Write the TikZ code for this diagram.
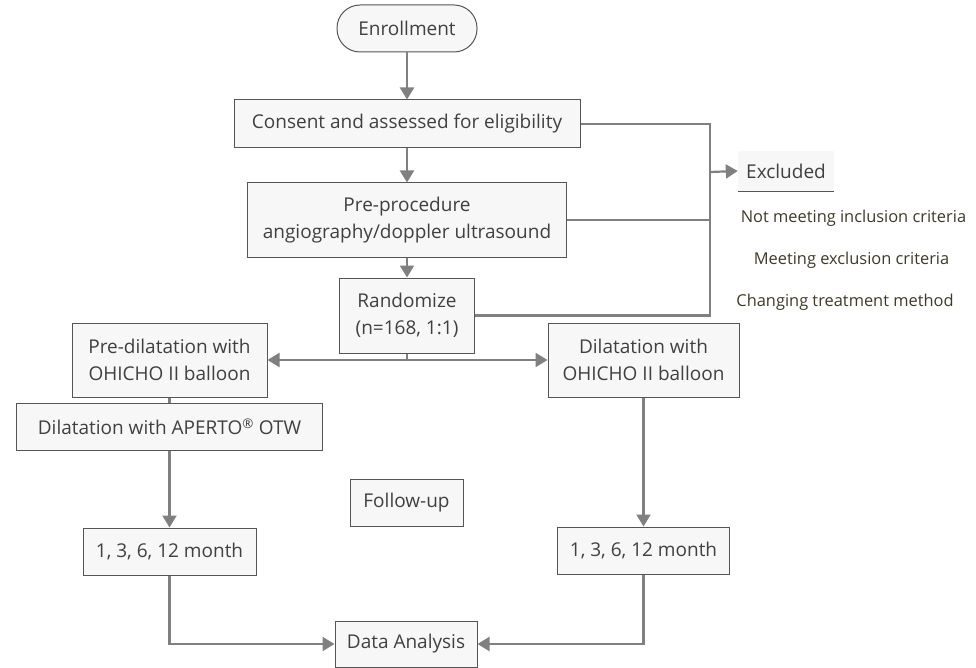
\documentclass[tikz,border=0pt]{standalone}
\usepackage{fontspec}
\setmainfont{Open Sans}
\usetikzlibrary{positioning,arrows.meta}
\definecolor{boxfill}{HTML}{F7F7F7}
\definecolor{boxline}{HTML}{555555}
\definecolor{boxtext}{HTML}{404040}
\definecolor{linegray}{HTML}{808080}
\definecolor{notetext}{HTML}{3E3A28}
\begin{document}
\begin{tikzpicture}[x=1pt, y=1pt, node distance={20pt},
    font=\fontsize{19}{27.5}\selectfont,
    main/.style = {draw=boxline, fill=boxfill, text=boxtext, line width=1pt, inner sep=0pt, align=center},
    line/.style = {draw=linegray, line width=2.2pt},
    arr/.style = {line, -{Triangle[length=12pt, width=14pt]}},
    note/.style = {text=notetext, inner sep=0pt, font=\fontsize{16.4}{20}\selectfont}]
    \useasboundingbox (0,0) rectangle (976,-668);
    % main column
    \node[main, rounded corners=23pt, minimum width=140pt, minimum height=47pt] (enroll) at (407,-28.5) {Enrollment};
    \node[main, minimum width=346pt, minimum height=48pt] (consent) [below=47pt of enroll] {Consent and assessed for eligibility};
    \node[main, minimum width=319pt, minimum height=74pt] (preproc) [below=34pt of consent] {Pre-procedure\\angiography/doppler ultrasound};
    \node[main, minimum width=135pt, minimum height=75pt] (random) [below=of preproc] {Randomize\\(n=168, 1:1)};
    % two arms
    \node[main, minimum width=195pt, minimum height=74pt] (predil) at (169.5,-360) {Pre-dilatation with\\OHICHO II balloon};
    \node[main, minimum width=306pt, minimum height=47pt] (aperto) [below=5pt of predil] {Dilatation with APERTO\textsuperscript{\textregistered}\ OTW};
    \node[main, minimum width=191pt, minimum height=74pt] (dilat) at (643.5,-360) {Dilatation with\\OHICHO II balloon};
    \node[main, minimum width=173pt, minimum height=47pt] (monthL) [below=77pt of aperto] {1, 3, 6, 12 month};
    \node[main, minimum width=172pt, minimum height=47pt] (monthR) [below=129pt of dilat] {1, 3, 6, 12 month};
    \node[main, minimum width=113pt, minimum height=47pt] (follow) at (406.5,-502.5) {Follow-up};
    \node[main, minimum width=142pt, minimum height=46pt] (data) at (406,-644) {Data Analysis};
    % excluded
    \node[fill=boxfill, text=boxtext, minimum width=96pt, minimum height=40pt, inner sep=0pt] (excl) at (786,-171) {Excluded};
    \draw[boxline, line width=1.2pt] (excl.south west) -- (excl.south east);
    \node[note] (crit1) at (853.5,-218) {Not meeting inclusion criteria};
    \node[note] (crit2) at (851.5,-260) {Meeting exclusion criteria};
    \node[note] (crit3) at (845,-302) {Changing treatment method};
    \coordinate (bus) at (710,-172);
    % connectors
    \draw[arr] (enroll) -- (consent);
    \draw[arr] (consent) -- (preproc);
    \draw[arr] (preproc) -- (random);
    \draw[arr] (random.south) |- (predil.east);
    \draw[arr] (random.south) |- (dilat.west);
    \draw[line] (predil) -- (aperto);
    \draw[arr] (aperto) -- (monthL);
    \draw[arr] (dilat) -- (monthR);
    \draw[arr] (monthL.south) |- (data.west);
    \draw[arr] (monthR.south) |- (data.east);
    \draw[line] (consent.east) -| (bus) |- (random.east);
    \draw[line] (preproc.east) -- (preproc.east -| bus);
    \draw[arr] (bus) -- (excl.west);
\end{tikzpicture}
\end{document}
